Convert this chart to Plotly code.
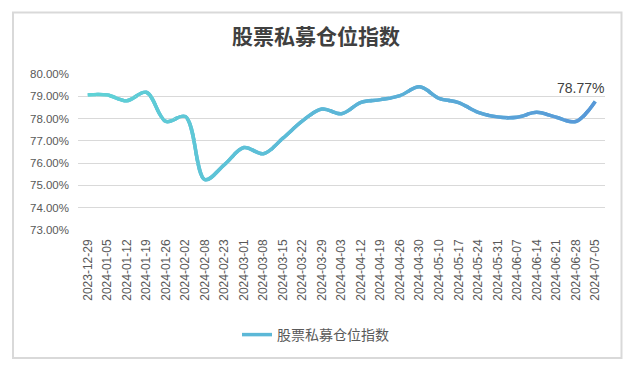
import plotly.graph_objects as go

# ---------------- data ----------------
categories = [
    "2023-12-29", "2024-01-05", "2024-01-12", "2024-01-19", "2024-01-26",
    "2024-02-02", "2024-02-08", "2024-02-23", "2024-03-01", "2024-03-08",
    "2024-03-15", "2024-03-22", "2024-03-29", "2024-04-03", "2024-04-12",
    "2024-04-19", "2024-04-26", "2024-04-30", "2024-05-10", "2024-05-17",
    "2024-05-24", "2024-05-31", "2024-06-07", "2024-06-14", "2024-06-21",
    "2024-06-28", "2024-07-05",
]
values = [
    79.06, 79.06, 78.80, 79.18, 77.87,
    78.09, 75.26, 75.93, 76.70, 76.42,
    77.12, 77.90, 78.43, 78.22, 78.73,
    78.85, 79.03, 79.43, 78.91, 78.72,
    78.28, 78.07, 78.06, 78.28, 78.06,
    77.87, 78.77,
]
y_ticks = [73, 74, 75, 76, 77, 78, 79, 80]
y_tick_labels = [f"{v:.2f}%" for v in y_ticks]
title_text = "股票私募仓位指数"
series_name = "股票私募仓位指数"
last_label = "78.77%"

# ---------------- layout geometry (screen px; page has an 8px body offset) ----------------
OFF = 8
W, H = 631 - OFF, 367 - OFF
px_left, px_right, px_top, px_bottom = 78, 605, 74, 230   # plot area in screen coords
L = px_left - OFF
R = (631 - OFF) - (px_right - OFF)
T = px_top - OFF
B = H - (px_bottom - OFF)
pw, ph = px_right - px_left, px_bottom - px_top

n = len(categories)
xs = list(range(n))
lo, hi = -0.5, n - 0.5

c_start = (95, 211, 214)
c_end = (88, 152, 216)


def mix(t):
    return "rgb({},{},{})".format(*[round(a + (b - a) * t) for a, b in zip(c_start, c_end)])


line_w = 3.5
fig = go.Figure()

# base trace (carries the legend entry)
fig.add_trace(go.Scatter(
    x=xs, y=values, mode="lines", name=series_name,
    line=dict(shape="spline", smoothing=1, width=line_w, color=mix(0.45), simplify=False),
    hoverinfo="skip",
))

# gradient: same spline drawn on hidden x-axes, each clipped to a vertical slice
extra_axes = {}
eps = 0.06
for k in range(n):
    a = max(lo, k - 0.5 - eps)
    b = min(hi, k + 0.5 + eps)
    t = k / (n - 1)
    ax_id = k + 2
    extra_axes[f"xaxis{ax_id}"] = dict(
        domain=[(a - lo) / (hi - lo), (b - lo) / (hi - lo)],
        range=[a, b], visible=False, anchor="y", fixedrange=True,
        showgrid=False, zeroline=False,
    )
    fig.add_trace(go.Scatter(
        x=xs, y=values, mode="lines", xaxis=f"x{ax_id}", yaxis="y",
        line=dict(shape="spline", smoothing=1, width=line_w, color=mix(t), simplify=False),
        showlegend=False, hoverinfo="skip",
    ))


def sy(y_screen):
    """screen y -> paper y"""
    return (px_bottom - y_screen) / ph


def sx(x_screen):
    return (x_screen - px_left) / pw


fig.update_layout(
    width=W, height=H,
    margin=dict(l=L, r=R, t=T, b=B, pad=0),
    paper_bgcolor="white",
    plot_bgcolor="rgba(0,0,0,0)",
    title=dict(
        text=title_text, x=(316 - OFF) / W, xanchor="center", y=1 - (37 - OFF) / H, yanchor="middle",
        xref="container", yref="container",
        font=dict(family="Noto Sans CJK SC", size=21, color="#404040", weight="bold"),
    ),
    xaxis=dict(
        domain=[0, 1], range=[lo, hi],
        tickmode="array", tickvals=xs, ticktext=categories,
        tickangle=-90, showgrid=False, zeroline=False, showline=False,
        ticks="", ticklabelstandoff=6,
        tickfont=dict(family="Liberation Sans", size=12, color="#595959"),
        fixedrange=True,
    ),
    yaxis=dict(
        range=[73, 80], tickmode="array", tickvals=y_ticks, ticktext=y_tick_labels,
        showgrid=True, gridcolor="#d9d9d9", gridwidth=1,
        zeroline=False, showline=False, ticks="", ticklabelstandoff=8,
        tickfont=dict(family="Liberation Sans", size=11.5, color="#595959"),
        fixedrange=True,
    ),
    showlegend=True,
    legend=dict(
        orientation="h", x=sx(237), xanchor="left", y=sy(335), yanchor="middle",
        font=dict(family="Noto Sans CJK SC", size=14, color="#595959"),
        bgcolor="rgba(0,0,0,0)",
    ),
    annotations=[dict(
        x=xs[-1], y=values[-1], xref="x", yref="y", text=last_label,
        showarrow=False, xanchor="center", yanchor="bottom", xshift=-15, yshift=3,
        font=dict(family="Liberation Sans", size=14, color="#404040"),
    )],
    shapes=[dict(
        type="rect", xref="paper", yref="paper",
        x0=sx(13), x1=sx(621.5),
        y0=sy(358), y1=sy(12.5),
        line=dict(color="#d9d9d9", width=2), fillcolor="rgba(0,0,0,0)", layer="below",
    )],
    **extra_axes,
)

fig.write_html("out.html", config={"displayModeBar": False})
